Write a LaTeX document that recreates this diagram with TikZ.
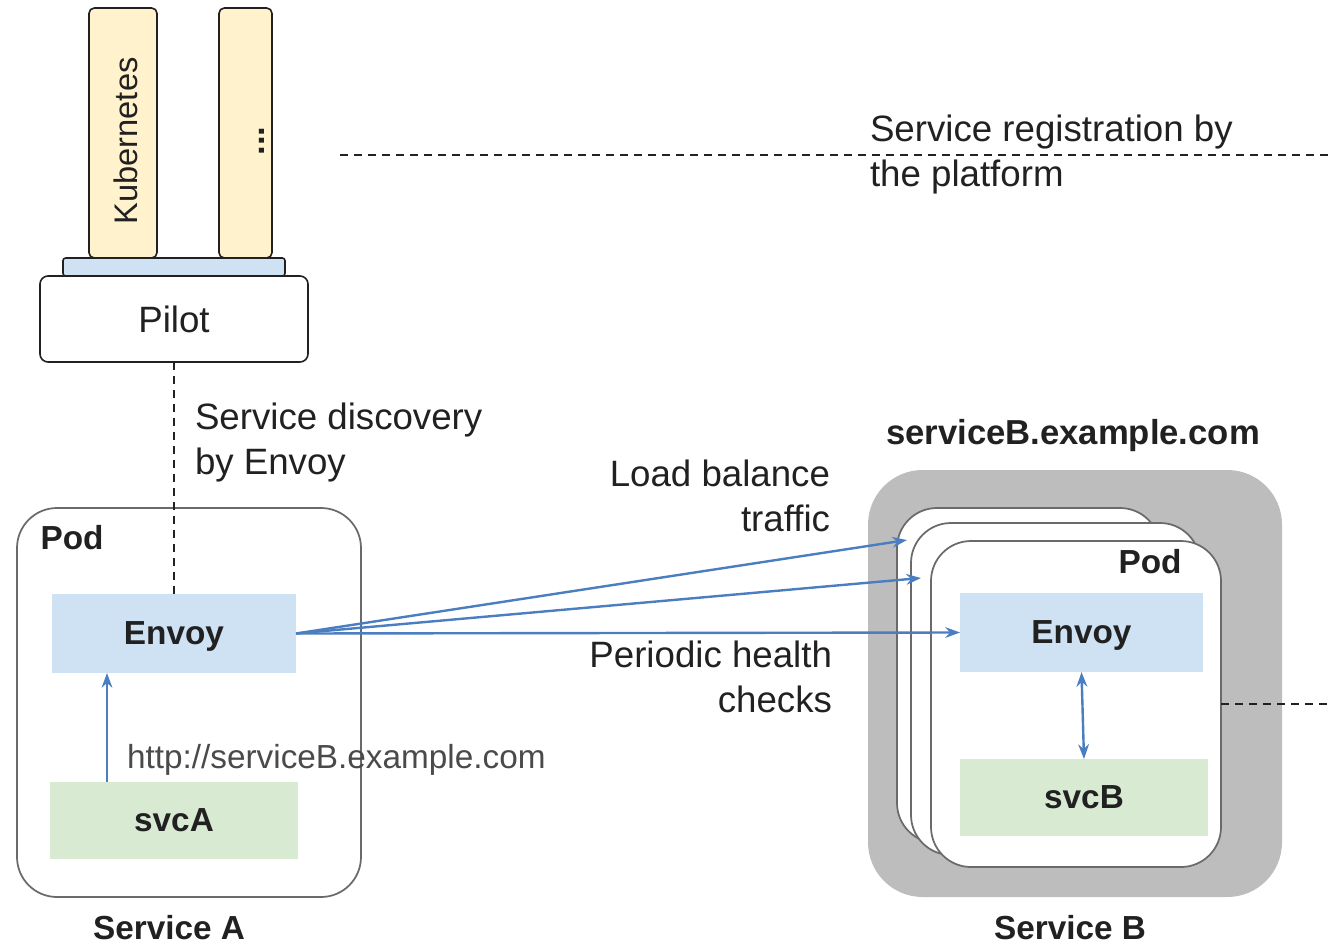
\documentclass[tikz,border=0pt]{standalone}
\usepackage{fontspec}
\setmainfont{Liberation Sans}
\usetikzlibrary{arrows.meta,calc}
\definecolor{kyellow}{HTML}{FFF2CC}
\definecolor{kblue}{HTML}{CFE2F3}
\definecolor{kgreen}{HTML}{D9EAD3}
\definecolor{kgray}{HTML}{BDBDBD}
\definecolor{karrow}{HTML}{4A7EC1}
\definecolor{kborder}{HTML}{6A6A6A}
\definecolor{ktext}{HTML}{212121}
\definecolor{kurl}{HTML}{4A4A4A}
\begin{document}
\begin{tikzpicture}[x=0.75pt,y=-0.75pt,
  every node/.style={text=ktext, inner sep=0pt, outer sep=0pt},
  bar/.style={draw=ktext, line width=1.2pt, fill=kyellow, rounded corners=4pt},
  basebar/.style={draw=ktext, line width=1.2pt, fill=kblue, rounded corners=2pt},
  pilotbox/.style={draw=ktext, line width=1.2pt, fill=white, rounded corners=6pt},
  podbox/.style={draw=kborder, line width=1.3pt, fill=white, rounded corners=30pt},
  envoybox/.style={fill=kblue, text depth=0pt},
  svcbox/.style={fill=kgreen},
  lbl/.style={font=\fontsize{27.5}{33.75}\selectfont},
  blbl/.style={font=\bfseries\fontsize{25}{30}\selectfont},
  flow/.style={draw=karrow, line width=1.8pt, -{Stealth[length=11pt,width=8pt]}},
  dflow/.style={draw=karrow, line width=1.8pt, {Stealth[length=11pt,width=8pt]}-{Stealth[length=11pt,width=8pt]}},
  dashline/.style={draw=ktext, line width=1.4pt, dash pattern=on 6pt off 4.5pt}
]
\useasboundingbox (0,0) rectangle (1329,946);

% platform bars and Pilot
\node[bar, minimum width=68*0.75pt, minimum height=250*0.75pt] (kube) at (123,133) {};
\node[lbl, rotate=90, font=\fontsize{24.5}{30}\selectfont] (kubetxt) at (126,141) {Kubernetes};
\node[bar, minimum width=53*0.75pt, minimum height=250*0.75pt] (other) at (245.5,133) {};
\node[rotate=90, font=\bfseries\fontsize{26}{30}\selectfont] (dots) at (262,141) {...};
\node[basebar, minimum width=222*0.75pt, minimum height=18*0.75pt] (adapter) at (174,267) {};
\node[pilotbox, minimum width=268*0.75pt, minimum height=86*0.75pt, lbl] (pilot) at (174,319) {Pilot};

% registration line
\coordinate (regL) at (340,155);
\coordinate (regR) at (1329,155);
\draw[dashline] (regL) -- (regR);
\node[lbl, anchor=north west, align=left] (regtxt) at (870,115) {Service registration by\\the platform};

% Service A
\node[podbox, minimum width=344*0.75pt, minimum height=389*0.75pt] (podA) at (189,702.5) {};
\node[blbl] (podAlbl) at (72,538) {Pod};
\node[envoybox, minimum width=244*0.75pt, minimum height=79*0.75pt, blbl] (envoyA) at (174,633.5) {Envoy};
\node[svcbox, minimum width=248*0.75pt, minimum height=77*0.75pt, blbl] (svcA) at (174,820.5) {svcA};
\node[blbl] (svcAlbl) at (169,928) {Service A};
\coordinate (ax) at (107,0);
\draw[flow] (svcA.north -| ax) -- (envoyA.south -| ax);
\node[lbl, anchor=base west, text=kurl, font=\fontsize{25}{30}\selectfont] (url) at (127,768) {http://serviceB.example.com};

% discovery
\draw[dashline] (pilot.south) -- (envoyA.north);
\node[lbl, anchor=north west, align=left] (disctxt) at (195,403) {Service discovery\\by Envoy};

% Service B
\node[blbl, font=\bfseries\fontsize{26}{30}\selectfont] (hostname) at (1073,436) {serviceB.example.com};
\node[fill=kgray, rounded corners=41pt, minimum width=414*0.75pt, minimum height=427*0.75pt] (svcBgroup) at (1075,683.5) {};
\node[podbox, minimum width=263*0.75pt, minimum height=335*0.75pt] (pod1) at (1028.5,675.5) {};
\node[podbox, minimum width=289*0.75pt, minimum height=332*0.75pt] (pod2) at (1055.5,689) {};
\node[podbox, minimum width=290*0.75pt, minimum height=326*0.75pt] (pod3) at (1076,704) {};
\node[blbl] (podBlbl) at (1150,562) {Pod};
\node[envoybox, minimum width=243*0.75pt, minimum height=79*0.75pt, blbl] (envoyB) at (1081.5,632.5) {Envoy};
\node[svcbox, minimum width=248*0.75pt, minimum height=77*0.75pt, blbl] (svcB) at (1084,797.5) {svcB};
\draw[dflow] (envoyB.south) -- (svcB.north);
\node[blbl] (svcBlbl) at (1070,928) {Service B};
\coordinate (podRight) at (1329,704);
\draw[dashline] (pod3.east) -- (podRight);

% traffic
\coordinate (t1) at (907,540);
\coordinate (t2) at (921,578);
\draw[flow] (envoyA.east) -- (t1);
\draw[flow] (envoyA.east) -- (t2);
\draw[flow] (envoyA.east) -- (envoyB.west);
\node[lbl, anchor=north east, align=right] (lbtxt) at (830,460) {Load balance\\traffic};
\node[lbl, anchor=north east, align=right] (hctxt) at (832,641) {Periodic health\\checks};
\end{tikzpicture}
\end{document}
